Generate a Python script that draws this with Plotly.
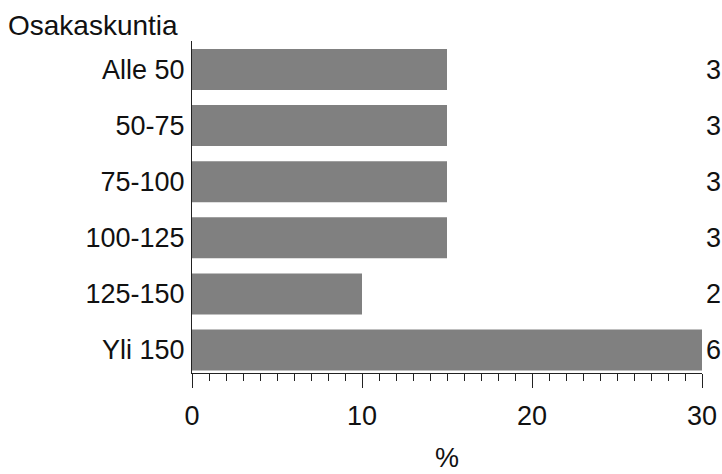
import plotly.graph_objects as go

categories = ["Alle 50", "50-75", "75-100", "100-125", "125-150", "Yli 150"]
percent = [15, 15, 15, 15, 10, 30]
counts = ["3", "3", "3", "3", "2", "6"]
x_ticks = [0, 10, 20, 30]

FONT = "Liberation Sans, Arial, sans-serif"

W, H = 722, 474
L, R, T, B = 192, 20, 41, 101
plot_h = H - T - B

fig = go.Figure()
fig.add_trace(go.Bar(
    y=categories, x=percent, orientation="h",
    marker=dict(color="#808080", line=dict(width=0)),
    width=0.73,
    hoverinfo="skip",
))

for c, n in zip(categories, counts):
    fig.add_annotation(x=1, xref="paper", y=c, yref="y", text=n,
                       xanchor="left", yanchor="middle", xshift=2, showarrow=False,
                       font=dict(family=FONT, size=27, color="#111"))

fig.add_annotation(x=0.5, xref="paper", y=-(458 - (H - B)) / plot_h, yref="paper", text="%",
                   xanchor="center", yanchor="middle", showarrow=False,
                   font=dict(family=FONT, size=27, color="#111"))

fig.update_layout(
    width=W, height=H,
    margin=dict(l=L, r=R, t=T, b=B, autoexpand=False),
    paper_bgcolor="white", plot_bgcolor="white",
    showlegend=False,
    font=dict(family=FONT, size=27, color="#111"),
    title=dict(text="Osakaskuntia", x=8 / W, xref="container", xanchor="left",
               y=1 - 25 / H, yref="container", yanchor="middle",
               font=dict(family=FONT, size=28, color="#111")),
)
fig.update_xaxes(
    range=[0, 30], tickvals=x_ticks, ticktext=[str(v) for v in x_ticks],
    showgrid=False, zeroline=False,
    showline=True, linecolor="#222", linewidth=1,
    ticks="outside", ticklen=14, tickwidth=1, tickcolor="#222",
    ticklabelstandoff=5,
    minor=dict(dtick=1, ticks="outside", ticklen=7, tickwidth=1, tickcolor="#222", showgrid=False),
    tickfont=dict(family=FONT, size=27, color="#111"),
    fixedrange=True,
)
fig.update_yaxes(
    categoryorder="array", categoryarray=categories,
    range=[5.41, -0.508],
    showgrid=False, zeroline=False,
    showline=True, linecolor="#222", linewidth=1,
    ticks="", ticklabelstandoff=1,
    tickfont=dict(family=FONT, size=27, color="#111"),
    fixedrange=True,
)

fig.write_html(
    "out.html",
    config=dict(displayModeBar=False),
    post_script="document.body.style.margin='0';document.body.style.overflow='hidden';",
)
